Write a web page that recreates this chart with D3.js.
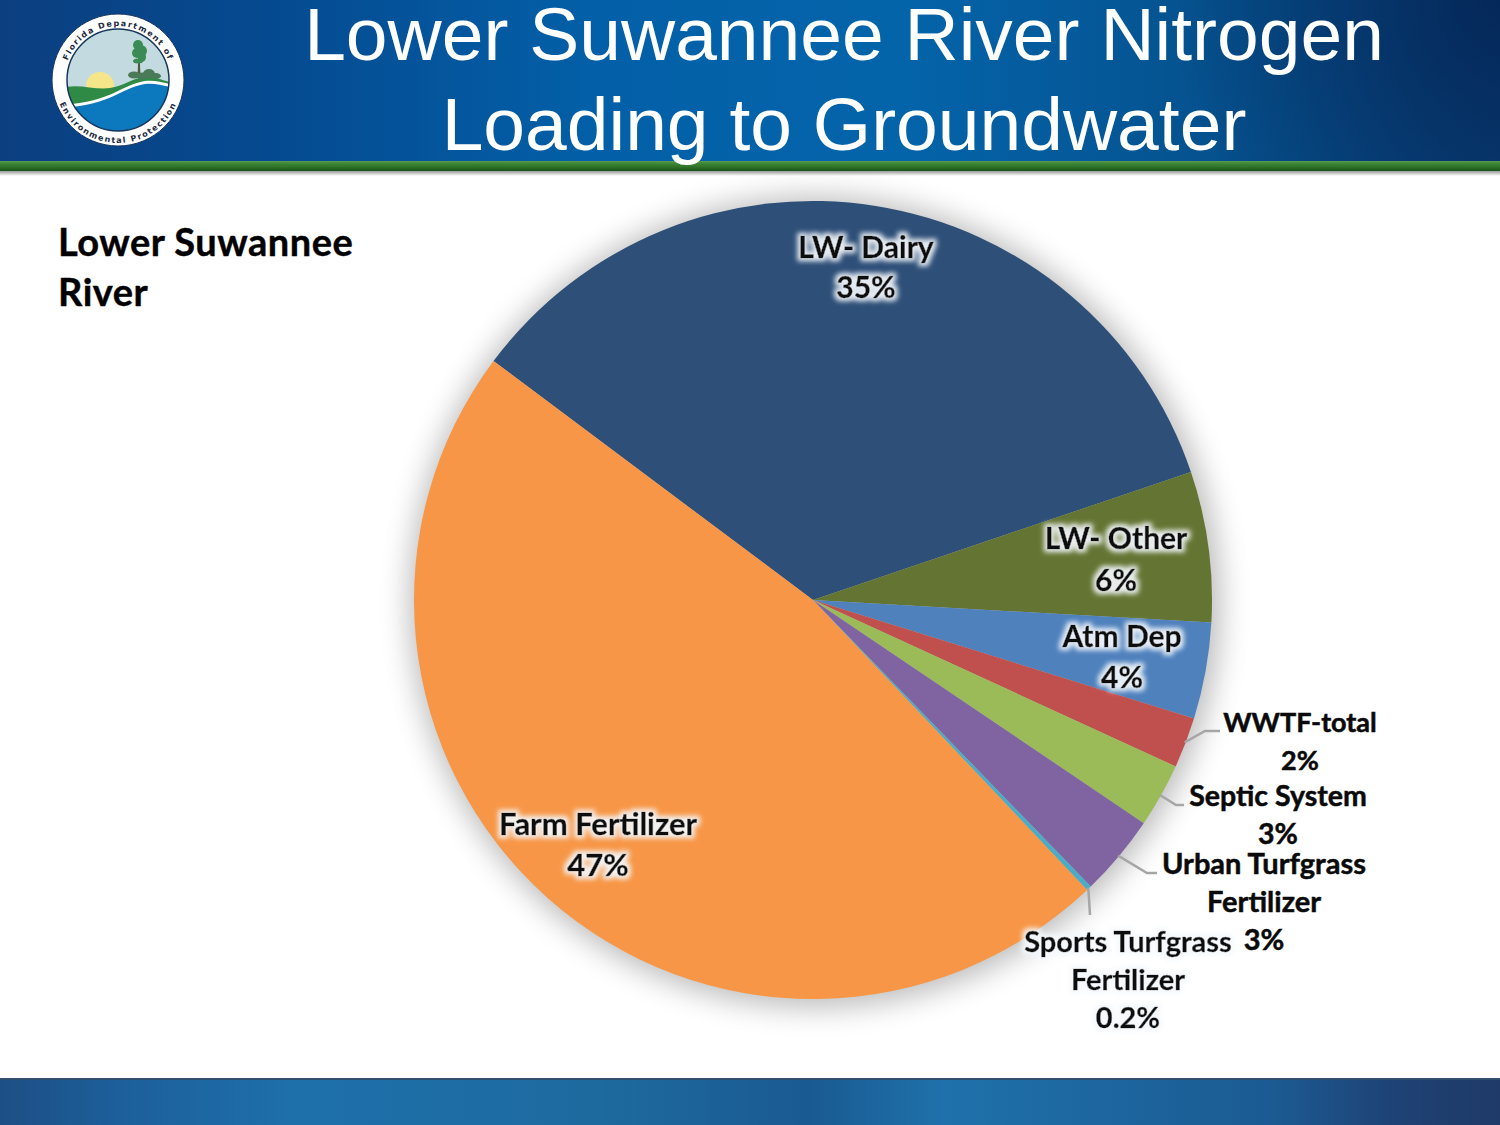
<!DOCTYPE html>
<html>
<head>
<meta charset="utf-8">
<script src="https://cdn.jsdelivr.net/npm/d3@7"></script>
<style>
  html, body { margin: 0; padding: 0; background: #fff; }
  svg { display: block; }
  .title { font-family: "Liberation Sans", Arial, sans-serif; font-size: 75px; fill: #fff; text-anchor: middle; }
  .subhead { font-family: Lato, sans-serif; font-weight: 700; font-size: 38px; letter-spacing: 0.5px; fill: #000; stroke: #000; stroke-width: 0.4px; }
  .lbl { font-family: Lato, sans-serif; font-weight: 700; fill: #0a0a0a; stroke: #0a0a0a; stroke-width: 0.5px; text-anchor: middle; }
</style>
</head>
<body>
<svg id="chart" width="1500" height="1125"></svg>
<script>
// slice data, clockwise from the dairy slice
const categories = ["LW- Dairy", "LW- Other", "Atm Dep", "WWTF-total", "Septic System", "Urban Turfgrass Fertilizer", "Sports Turfgrass Fertilizer", "Farm Fertilizer"];
const values = [34.6, 6.1, 3.9, 2.05, 2.6, 3.3, 0.2, 47.3];
const valueLabels = ["35%", "6%", "4%", "2%", "3%", "3%", "0.2%", "47%"];
const colors = ["#2e4f78", "#647533", "#4f81bd", "#c0504d", "#9bbb59", "#8064a2", "#4bacc6", "#f79646"];
const titleLines = ["Lower Suwannee River Nitrogen", "Loading to Groundwater"];
const subheadLines = ["Lower Suwannee", "River"];

const width = 1500, height = 1125;
const cx = 813, cy = 600, radius = 399;
const startDeg = -53.2;

// label placement, one entry per category
const labelLayout = [
  { x: 866, size: 30, lines: [["LW- Dairy", 258], ["35%", 298]], halo: true },
  { x: 1116, size: 30, lines: [["LW- Other", 549], ["6%", 591]], halo: true },
  { x: 1122, size: 30, lines: [["Atm Dep", 647], ["4%", 688]], halo: true },
  { x: 1300, size: 27, lines: [["WWTF-total", 732], ["2%", 770]], leader: [[1205, 731], [1220, 731]] },
  { x: 1278, size: 28.5, lines: [["Septic System", 806], ["3%", 844]], leader: [[1176, 805], [1184, 805]] },
  { x: 1264, size: 29, lines: [["Urban Turfgrass", 874], ["Fertilizer", 912], ["3%", 950]], leader: [[1147, 873], [1157, 873]] },
  { x: 1128, size: 29, lines: [["Sports Turfgrass", 952], ["Fertilizer", 990], ["0.2%", 1028]], leader: [[1090, 915]], glow: true },
  { x: 598, size: 31, lines: [["Farm Fertilizer", 835], ["47%", 876]], halo: true }
];

const svg = d3.select("#chart");
const defs = svg.append("defs");

// header and footer gradients
function linearGradient(id, stops, vertical) {
  const g = defs.append("linearGradient").attr("id", id)
    .attr("x1", 0).attr("y1", 0).attr("x2", vertical ? 0 : 1).attr("y2", vertical ? 1 : 0);
  stops.forEach(s => g.append("stop").attr("offset", s[0]).attr("stop-color", s[1]).attr("stop-opacity", s[2] === undefined ? 1 : s[2]));
}
linearGradient("headerGrad", [[0, "#0b3f80"], [0.18, "#054a90"], [0.4, "#0360a8"], [0.6, "#0464aa"], [0.8, "#05528f"], [1, "#083f78"]]);
linearGradient("footerGrad", [[0, "#1d4f85"], [0.08, "#1c5f9b"], [0.2, "#1e70ab"], [0.4, "#1d6a9f"], [0.54, "#1a5a92"], [0.63, "#1f71ab"], [0.85, "#1b5a92"], [0.93, "#1e4275"], [1, "#1f3a68"]]);
linearGradient("greenGrad", [[0, "#5d9a5a"], [0.2, "#3f8a38"], [0.65, "#2b6f26"], [1, "#1c521c"]], true);
linearGradient("bandShadow", [[0, "#000", 0.4], [1, "#000", 0]], true);

const corner = defs.append("radialGradient").attr("id", "cornerGrad")
  .attr("gradientUnits", "userSpaceOnUse").attr("cx", 1500).attr("cy", 0).attr("r", 330);
corner.append("stop").attr("offset", 0).attr("stop-color", "#04204f").attr("stop-opacity", 0.75);
corner.append("stop").attr("offset", 1).attr("stop-color", "#04204f").attr("stop-opacity", 0);

const shadow = defs.append("filter").attr("id", "pieShadow")
  .attr("x", "-15%").attr("y", "-15%").attr("width", "130%").attr("height", "130%");
shadow.append("feGaussianBlur").attr("stdDeviation", 15);

const halo = defs.append("filter").attr("id", "halo")
  .attr("x", "-15%").attr("y", "-30%").attr("width", "130%").attr("height", "160%");
halo.append("feMorphology").attr("in", "SourceAlpha").attr("operator", "dilate").attr("radius", 2.5).attr("result", "fat");
halo.append("feGaussianBlur").attr("in", "fat").attr("stdDeviation", 2.5).attr("result", "blur");
halo.append("feFlood").attr("flood-color", "#f4f8fc").attr("flood-opacity", 0.92);
halo.append("feComposite").attr("in2", "blur").attr("operator", "in").attr("result", "glow");
const haloMerge = halo.append("feMerge");
haloMerge.append("feMergeNode").attr("in", "glow");
haloMerge.append("feMergeNode").attr("in", "SourceGraphic");

// page furniture
svg.append("rect").attr("width", width).attr("height", 161).attr("fill", "url(#headerGrad)");
svg.append("rect").attr("width", width).attr("height", 161).attr("fill", "url(#cornerGrad)");
svg.append("rect").attr("y", 161).attr("width", width).attr("height", 10).attr("fill", "url(#greenGrad)");
svg.append("rect").attr("y", 171).attr("width", width).attr("height", 5).attr("fill", "url(#bandShadow)");
svg.append("rect").attr("y", 1078).attr("width", width).attr("height", 47).attr("fill", "url(#footerGrad)");
svg.append("rect").attr("y", 1078).attr("width", width).attr("height", 2).attr("fill", "#33506e");

svg.append("g").selectAll("text").data(titleLines).join("text")
  .attr("class", "title")
  .attr("x", 844)
  .attr("y", (d, i) => 60 + i * 90)
  .text(d => d);

svg.append("g").selectAll("text").data(subheadLines).join("text")
  .attr("class", "subhead")
  .attr("x", 58)
  .attr("y", (d, i) => 256 + i * 50)
  .text(d => d);

// logo
const logo = svg.append("g").attr("transform", "translate(118,80)");
defs.append("clipPath").attr("id", "logoClip").append("circle").attr("r", 51);
logo.append("circle").attr("r", 66).attr("fill", "#fff").attr("stroke", "#16365f").attr("stroke-width", 1);
const scene = logo.append("g").attr("clip-path", "url(#logoClip)");
scene.append("rect").attr("x", -52).attr("y", -52).attr("width", 104).attr("height", 104).attr("fill", "#c3dbe0");
scene.append("circle").attr("cx", -18).attr("cy", 6).attr("r", 14).attr("fill", "#f5e68a");
scene.append("path").attr("d", "M-52,7 C-38,4 -22,10 -8,8 C5,6 14,-1 25,-3 C35,-4 43,0 52,2 L52,30 L-52,30Z").attr("fill", "#2f8a45");
scene.append("path").attr("d", "M-46,24 C-25,22 -10,16 2,10 C12,5 20,2 27,1 C36,0 44,2 52,4 L52,52 L-52,52 L-52,24Z").attr("fill", "#fff");
scene.append("path").attr("d", "M-46,27 C-25,25 -10,19 2,13 C12,8 20,5 27,4 C36,3 44,5 52,7 L52,52 L-52,52 L-52,27Z").attr("fill", "#0c78bd");
// tree and scrub
scene.append("path").attr("d", "M19.5,-2 L20.5,-30 L21.5,-30 L22.5,-2Z").attr("fill", "#4e5a3a");
[[20, -35, 5, 5], [23, -29, 6, 6], [19, -27, 5, 5], [24, -23, 4, 5], [20, -19, 5, 2.5]].forEach(e => {
  scene.append("ellipse").attr("cx", e[0]).attr("cy", e[1]).attr("rx", e[2]).attr("ry", e[3]).attr("fill", "#3b8b55");
});
[[16, -5, 6, 3.5], [24, -4, 5, 3.5], [31, -6, 6, 5], [38, -4, 5, 3]].forEach(e => {
  scene.append("ellipse").attr("cx", e[0]).attr("cy", e[1]).attr("rx", e[2]).attr("ry", e[3]).attr("fill", "#4a7a58");
});
logo.append("circle").attr("r", 51).attr("fill", "none").attr("stroke", "#17365a").attr("stroke-width", 1.5);
defs.append("path").attr("id", "logoTop").attr("d", "M-54,0 A54,54 0 0 1 54,0");
defs.append("path").attr("id", "logoBottom").attr("d", "M-63,0 A63,63 0 0 0 63,0");
[["logoTop", "Florida Department of"], ["logoBottom", "Environmental Protection"]].forEach(t => {
  logo.append("text")
    .attr("font-family", "'DejaVu Sans', sans-serif").attr("font-size", 8).attr("font-weight", 700)
    .attr("letter-spacing", 1.4).attr("fill", "#1c2b40").attr("text-anchor", "middle")
    .append("textPath").attr("href", "#" + t[0]).attr("startOffset", "50%").text(t[1]);
});

// pie
const pie = d3.pie().sort(null).value(d => d)
  .startAngle(startDeg * Math.PI / 180)
  .endAngle((startDeg + 360) * Math.PI / 180);
const arc = d3.arc().innerRadius(0).outerRadius(radius);
const slices = pie(values);

const plot = svg.append("g").attr("transform", `translate(${cx},${cy})`);
plot.append("circle").attr("r", radius + 6).attr("cx", 2).attr("cy", 2).attr("fill", "#000").attr("opacity", 0.27).attr("filter", "url(#pieShadow)");
plot.selectAll("path.slice").data(slices).join("path")
  .attr("class", "slice")
  .attr("d", arc)
  .attr("fill", (d, i) => colors[i]);

// leader lines start on the rim at the slice's mid angle
labelLayout.forEach((l, i) => {
  if (!l.leader) return;
  const mid = (slices[i].startAngle + slices[i].endAngle) / 2;
  const start = [cx + Math.sin(mid) * (radius - 1), cy - Math.cos(mid) * (radius - 1)];
  svg.append("path")
    .attr("d", d3.line()([start, ...l.leader]))
    .attr("fill", "none").attr("stroke", "#a6a6a6").attr("stroke-width", 2.5);
});

// labels
labelLayout.forEach(l => {
  const g = svg.append("g").attr("filter", l.halo || l.glow ? "url(#halo)" : null);
  l.lines.forEach(line => {
    g.append("text").attr("class", "lbl").attr("x", l.x).attr("y", line[1])
      .attr("font-size", l.size).text(line[0]);
  });
});
</script>
</body>
</html>
